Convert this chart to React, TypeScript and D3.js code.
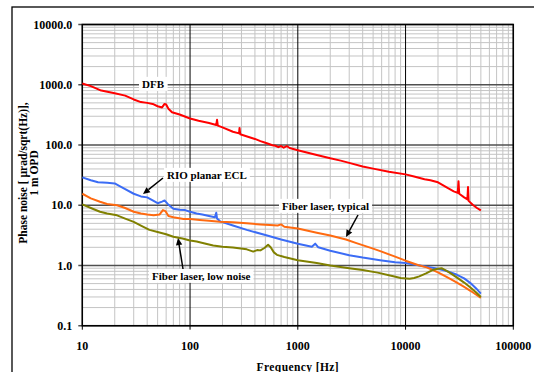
import { useEffect, useRef } from "react";
import * as d3 from "d3";

type Pt = [number, number];

const xTicks = [10, 100, 1000, 10000, 100000];
const xTickLabels = ["10", "100", "1000", "10000", "100000"];
const yTicks = [0.1, 1, 10, 100, 1000, 10000];
const yTickLabels = ["0.1", "1.0", "10.0", "100.0", "1000.0", "10000.0"];

// [frequency Hz, phase noise]
const dfb: Pt[] = [
  [10, 1050], [12, 950], [15, 800], [20, 720], [25, 660], [30, 570], [35, 515], [40, 500],
  [45, 480], [50, 440], [55, 420], [58, 480], [60, 470], [63, 400], [68, 350], [80, 320],
  [100, 275], [120, 252], [150, 232], [175, 215], [178, 262], [181, 210], [200, 196],
  [250, 166], [285, 156], [288, 192], [292, 151], [350, 136], [400, 126], [450, 116],
  [500, 109], [540, 104], [580, 99], [620, 97], [660, 92], [700, 96], [740, 90], [790, 96],
  [840, 89], [1000, 82], [1500, 68], [2000, 60], [2500, 55], [3000, 50.5], [4000, 44],
  [5000, 40.5], [7000, 36], [10000, 32.5], [12000, 30], [15000, 27], [17000, 26],
  [20000, 24], [25000, 19], [28000, 17], [30500, 16], [31000, 25], [31500, 15.5],
  [35000, 13.5], [37500, 12.5], [38000, 20], [38500, 11.8], [42000, 10.2], [46000, 9],
  [50000, 8.2],
];

const rio: Pt[] = [
  [10, 29], [12, 26], [14, 24], [17, 23.5], [20, 23], [22, 21], [25, 18.5], [30, 15.5],
  [35, 14], [40, 13.5], [45, 12], [50, 10.8], [55, 11.5], [58, 12], [62, 10.5], [70, 8.7],
  [80, 8.4], [90, 8.3], [100, 7.8], [115, 7.3], [130, 7], [150, 6.6], [170, 6.3],
  [175, 7.5], [178, 6], [190, 5.4], [250, 4.6], [336, 3.9], [500, 3.2], [700, 2.7],
  [1000, 2.3], [1350, 2.05], [1450, 2.3], [1550, 2.0], [2000, 1.75], [3000, 1.48],
  [4000, 1.35], [5800, 1.22], [8000, 1.13], [10000, 1.1], [15700, 0.95], [20000, 0.88],
  [24000, 0.81], [30000, 0.7], [35000, 0.61], [40000, 0.51], [45000, 0.42], [50000, 0.34],
];

const typical: Pt[] = [
  [10, 15.5], [12, 13], [14.6, 11.4], [17, 10.5], [21, 10], [25, 9], [30, 7.8], [35, 7.3],
  [40, 7], [46, 6.8], [52, 7], [56, 8.3], [59, 8], [63, 6.6], [70, 6.3], [87, 5.9],
  [100, 5.9], [123, 5.7], [150, 5.5], [189, 5.3], [250, 5.2], [336, 5.0], [450, 4.8],
  [550, 4.7], [650, 4.6], [700, 4.8], [750, 4.4], [1000, 4.1], [1500, 3.5], [2000, 3.15],
  [2800, 2.7], [3500, 2.35], [5000, 1.9], [6000, 1.7], [8000, 1.4], [10000, 1.2],
  [13000, 1.02], [15700, 0.93], [20000, 0.77], [25000, 0.62], [30000, 0.52],
  [35000, 0.44], [40000, 0.38], [45000, 0.33], [50000, 0.29],
];

const lowNoise: Pt[] = [
  [10, 10.3], [12, 9], [14.6, 7.8], [17, 7.3], [21, 6.8], [25, 6.0], [30, 5.3], [35, 4.6],
  [42, 3.9], [50, 3.6], [60, 3.3], [70, 3.0], [85, 2.8], [100, 2.6], [115, 2.5],
  [140, 2.3], [164, 2.15], [200, 2.05], [250, 1.98], [336, 1.85], [386, 1.7], [420, 1.8],
  [450, 1.78], [490, 1.95], [530, 2.2], [560, 2.0], [600, 1.65], [640, 1.5], [750, 1.38],
  [1000, 1.22], [1500, 1.1], [2000, 1.0], [3000, 0.9], [4000, 0.84], [5500, 0.76],
  [7700, 0.66], [9000, 0.62], [10900, 0.6], [12000, 0.62], [13400, 0.66], [15500, 0.74],
  [17800, 0.84], [20000, 0.88], [21600, 0.9], [25000, 0.78], [29600, 0.64], [35000, 0.52],
  [40000, 0.43], [45000, 0.36], [50000, 0.3],
];

const series = [
  { data: dfb, color: "#ff0000" },
  { data: rio, color: "#3b6cf5" },
  { data: typical, color: "#ff6a10" },
  { data: lowNoise, color: "#808000" },
];

// label text, anchor, position in pixels, optional arrow [x1,y1,x2,y2]
const labels: { text: string; x: number; y: number; anchor: string; arrow?: number[] }[] = [
  { text: "DFB", x: 153, y: 84, anchor: "middle" },
  { text: "RIO planar ECL", x: 167, y: 175, anchor: "start", arrow: [163, 178, 143, 194] },
  { text: "Fiber laser, typical", x: 282, y: 206, anchor: "start", arrow: [358, 215, 346, 237] },
  { text: "Fiber laser, low noise", x: 152, y: 276, anchor: "start", arrow: [183, 269, 178, 238] },
];

const FONT = "'Liberation Serif', 'Times New Roman', serif";

export default function App() {
  const ref = useRef<SVGSVGElement>(null);

  useEffect(() => {
    if (!ref.current) return;
    const width = 534;
    const height = 372;
    const margin = { top: 24.5, right: 20.7, bottom: 46.3, left: 82.3 };

    const svg = d3.select(ref.current);
    svg.selectAll("*").remove();
    svg.attr("width", width).attr("height", height);

    svg
      .append("rect")
      .attr("x", 12)
      .attr("y", 7)
      .attr("width", 600)
      .attr("height", 500)
      .attr("fill", "white")
      .attr("stroke", "#000")
      .attr("stroke-width", 1.3);

    const x = d3.scaleLog().domain([10, 100000]).range([margin.left, width - margin.right]);
    const y = d3.scaleLog().domain([0.1, 10000]).range([height - margin.bottom, margin.top]);
    const [x0, x1] = x.range();
    const [y0, y1] = y.range();

    const minorX: number[] = [];
    for (let d = 10; d < 100000; d *= 10) for (let k = 2; k <= 9; k++) minorX.push(d * k);
    const minorY: number[] = [];
    for (let d = 0.1; d < 9999; d *= 10) for (let k = 2; k <= 9; k++) minorY.push(d * k);

    const grid = svg.append("g");
    grid
      .selectAll("line.mx")
      .data(minorX)
      .join("line")
      .attr("x1", (d) => x(d))
      .attr("x2", (d) => x(d))
      .attr("y1", y0)
      .attr("y2", y1)
      .attr("stroke", "#c4c4c4")
      .attr("stroke-width", 1);
    grid
      .selectAll("line.my")
      .data(minorY)
      .enter()
      .append("line")
      .attr("x1", x0)
      .attr("x2", x1)
      .attr("y1", (d) => y(d))
      .attr("y2", (d) => y(d))
      .attr("stroke", "#c4c4c4")
      .attr("stroke-width", 1);
    grid
      .selectAll("line.My")
      .data(yTicks)
      .enter()
      .append("line")
      .attr("x1", x0 - 4)
      .attr("x2", x1)
      .attr("y1", (d) => y(d))
      .attr("y2", (d) => y(d))
      .attr("stroke", "#505050")
      .attr("stroke-width", 1.4);
    grid
      .selectAll("line.Mx")
      .data(xTicks)
      .enter()
      .append("line")
      .attr("x1", (d) => x(d))
      .attr("x2", (d) => x(d))
      .attr("y1", y0 + 4)
      .attr("y2", y1)
      .attr("stroke", "#000")
      .attr("stroke-width", 1);

    svg
      .append("rect")
      .attr("x", x0)
      .attr("y", y1)
      .attr("width", x1 - x0)
      .attr("height", y0 - y1)
      .attr("fill", "none")
      .attr("stroke", "#000")
      .attr("stroke-width", 1.5);

    svg
      .append("g")
      .selectAll("text")
      .data(yTicks)
      .join("text")
      .attr("x", x0 - 10)
      .attr("y", (d) => y(d))
      .attr("dy", "0.35em")
      .attr("text-anchor", "end")
      .attr("font-family", FONT)
      .attr("font-weight", "bold")
      .attr("font-size", 12)
      .text((_, i) => yTickLabels[i]);

    svg
      .append("g")
      .selectAll("text")
      .data(xTicks)
      .join("text")
      .attr("x", (d) => x(d))
      .attr("y", 349.5)
      .attr("text-anchor", "middle")
      .attr("font-family", FONT)
      .attr("font-weight", "bold")
      .attr("font-size", 12)
      .text((_, i) => xTickLabels[i]);

    svg
      .append("text")
      .attr("x", (x0 + x1) / 2)
      .attr("y", 370.5)
      .attr("text-anchor", "middle")
      .attr("font-family", FONT)
      .attr("font-weight", "bold")
      .attr("font-size", 11.5)
      .attr("letter-spacing", 0.4)
      .text("Frequency [Hz]");

    const yl = svg
      .append("text")
      .attr("transform", "translate(0,173) rotate(-90)")
      .attr("text-anchor", "middle")
      .attr("font-family", FONT)
      .attr("font-weight", "bold")
      .attr("font-size", 11.5);
    yl.append("tspan").attr("x", 0).attr("y", 27).text("Phase noise [ µrad/sqrt(Hz)],");
    yl.append("tspan").attr("x", 0).attr("y", 38).text("1 m OPD");

    const line = d3
      .line<Pt>()
      .x((d) => x(d[0]))
      .y((d) => y(d[1]));

    series.forEach((s) => {
      svg
        .append("path")
        .datum(s.data)
        .attr("d", line)
        .attr("fill", "none")
        .attr("stroke", s.color)
        .attr("stroke-width", 2)
        .attr("stroke-linejoin", "round");
    });

    labels.forEach((l) => {
      const g = svg.append("g");
      const rect = g.append("rect").attr("fill", "white");
      const t = g
        .append("text")
        .attr("x", l.x)
        .attr("y", l.y)
        .attr("dy", "0.35em")
        .attr("text-anchor", l.anchor)
        .attr("font-family", FONT)
        .attr("font-weight", "bold")
        .attr("font-size", 11)
        .text(l.text);
      const bb = (t.node() as SVGTextElement).getBBox();
      rect
        .attr("x", bb.x - 3)
        .attr("y", bb.y - 1)
        .attr("width", bb.width + 6)
        .attr("height", bb.height + 2);
      if (l.arrow) {
        const [ax1, ay1, ax2, ay2] = l.arrow;
        const ang = Math.atan2(ay2 - ay1, ax2 - ax1);
        const len = 7;
        const w = 3.2;
        const bx = ax2 - len * Math.cos(ang);
        const by = ay2 - len * Math.sin(ang);
        g.append("line")
          .attr("x1", ax1)
          .attr("y1", ay1)
          .attr("x2", bx)
          .attr("y2", by)
          .attr("stroke", "#000")
          .attr("stroke-width", 1.5);
        g.append("path")
          .attr(
            "d",
            `M${ax2},${ay2}L${bx + w * Math.sin(ang)},${by - w * Math.cos(ang)}L${bx - w * Math.sin(ang)},${by + w * Math.cos(ang)}Z`
          )
          .attr("fill", "#000");
      }
    });
  }, []);

  return (
    <div style={{ position: "absolute", left: 0, top: 0 }}>
      <svg ref={ref} style={{ display: "block" }} />
    </div>
  );
}
